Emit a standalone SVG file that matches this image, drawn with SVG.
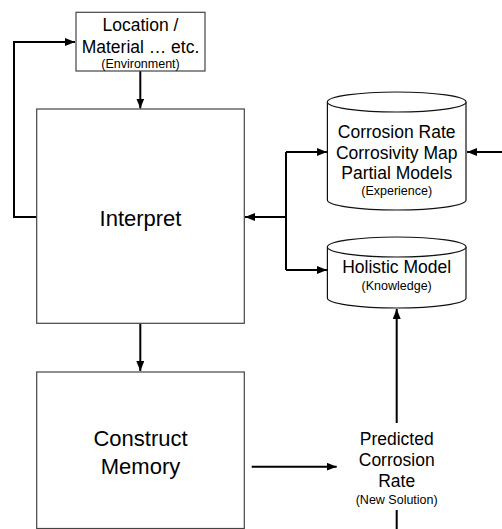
<svg xmlns="http://www.w3.org/2000/svg" width="502" height="529" viewBox="0 0 502 529">
<style>
.box{fill:#fff;stroke:#444;stroke-width:1.2}
.cyl{fill:#fff;stroke:#111;stroke-width:1.2}
.ln{fill:none;stroke:#000;stroke-width:2}
text{font-family:"Liberation Sans",Arial,sans-serif;fill:#000;text-anchor:middle}
.big{font-size:22px}
.mid{font-size:17.5px}
.sm{font-size:12.5px}
</style>
<defs>
<marker id="ah" viewBox="0 0 10 8" refX="10" refY="4" markerWidth="10" markerHeight="8" markerUnits="userSpaceOnUse" orient="auto">
<path d="M0,0 L10,4 L0,8 Z" fill="#000"/>
</marker>
</defs>
<rect width="502" height="529" fill="#fff"/>
<g id="connectors">
<path class="ln" d="M37,217 H14 V42 H75" marker-end="url(#ah)"/>
<path class="ln" d="M140.3,71 V108.5" marker-end="url(#ah)"/>
<path class="ln" d="M140.3,323.5 V371" marker-end="url(#ah)"/>
<path class="ln" d="M286,217 H245" marker-end="url(#ah)"/>
<path class="ln" d="M286,152 V270"/>
<path class="ln" d="M286,152 H327" marker-end="url(#ah)"/>
<path class="ln" d="M286,270 H327" marker-end="url(#ah)"/>
<path class="ln" d="M502,152 H467" marker-end="url(#ah)"/>
<path class="ln" d="M396.7,423 V309" marker-end="url(#ah)"/>
<path class="ln" d="M396.7,510 V529"/>
<path class="ln" d="M251.7,466.7 H336.7" marker-end="url(#ah)"/>
</g>
<g id="environment">
<rect class="box" x="76" y="12.3" width="129" height="58.7"/>
<text class="mid" x="140.5" y="31">Location /</text>
<text class="mid" x="140.5" y="53">Material … etc.</text>
<text class="sm" x="140.5" y="68">(Environment)</text>
</g>
<g id="interpret">
<rect class="box" x="36.7" y="109" width="207.6" height="214.3"/>
<text class="big" x="140.5" y="226">Interpret</text>
</g>
<g id="construct">
<rect class="box" x="36.7" y="372" width="207.6" height="156.5"/>
<text class="big" x="140.5" y="445.5">Construct</text>
<text class="big" x="140.5" y="474">Memory</text>
</g>
<g id="experience">
<path class="cyl" d="M327.4,102 V200 A69.3,10 0 0 0 466,200 V102 A69.3,10 0 0 0 327.4,102 Z"/>
<path class="cyl" d="M327.4,102 A69.3,10 0 0 0 466,102" fill="none"/>
<text class="mid" x="396.7" y="138">Corrosion Rate</text>
<text class="mid" x="396.7" y="158.5">Corrosivity Map</text>
<text class="mid" x="396.7" y="179">Partial Models</text>
<text class="sm" x="396.7" y="195">(Experience)</text>
</g>
<g id="knowledge">
<path class="cyl" d="M327.4,247 V298 A69.3,10 0 0 0 466,298 V247 A69.3,10 0 0 0 327.4,247 Z"/>
<path class="cyl" d="M327.4,247 A69.3,10 0 0 0 466,247" fill="none"/>
<text class="mid" x="396.7" y="273">Holistic Model</text>
<text class="sm" x="396.7" y="290">(Knowledge)</text>
</g>
<g id="solution">
<text class="mid" x="396.7" y="445">Predicted</text>
<text class="mid" x="396.7" y="466">Corrosion</text>
<text class="mid" x="396.7" y="487">Rate</text>
<text class="sm" x="396.7" y="503.5">(New Solution)</text>
</g>
</svg>
